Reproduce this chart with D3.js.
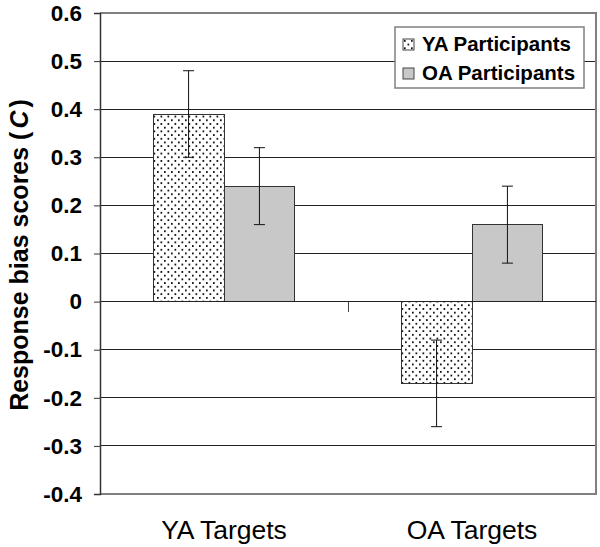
<!DOCTYPE html>
<html><head><meta charset="utf-8">
<script src="https://cdn.jsdelivr.net/npm/d3@7"></script>
<style>body{margin:0;background:#fff}svg{display:block}text{font-family:"Liberation Sans",Arial,sans-serif}</style>
</head><body>
<svg id="c" width="600" height="547"></svg>
<script>
const categories = ["YA Targets", "OA Targets"];
const seriesNames = ["YA Participants", "OA Participants"];
const ya = [0.39, -0.17];
const oa = [0.24, 0.16];
const yaErr = [0.09, 0.09];
const oaErr = [0.08, 0.08];
const yTicks = [0.6, 0.5, 0.4, 0.3, 0.2, 0.1, 0, -0.1, -0.2, -0.3, -0.4];
const yTickLabels = ["0.6", "0.5", "0.4", "0.3", "0.2", "0.1", "0", "-0.1", "-0.2", "-0.3", "-0.4"];

const svg = d3.select("#c");
const L = 100, R = 596, T = 13, B = 494;
const y = d3.scaleLinear().domain([-0.4, 0.6]).range([B, T]);
const x0 = d3.scaleBand().domain(categories).range([L, R]).padding(0);
const x1 = d3.scaleBand().domain(seriesNames).range([0, x0.bandwidth()]).paddingInner(0).paddingOuter(0.75);

const defs = svg.append("defs");
const pat = defs.append("pattern").attr("id", "dots").attr("patternUnits", "userSpaceOnUse")
  .attr("width", 7).attr("height", 7.4);
pat.append("rect").attr("width", 7).attr("height", 7.4).attr("fill", "#fff");
pat.append("rect").attr("x", 1).attr("y", 1).attr("width", 1.7).attr("height", 1.7).attr("fill", "#000");
pat.append("rect").attr("x", 4.5).attr("y", 4.7).attr("width", 1.7).attr("height", 1.7).attr("fill", "#000");

// gridlines
svg.append("g").selectAll("line").data(yTicks.filter(v => v < 0.6 && v > -0.4)).join("line")
  .attr("x1", L).attr("x2", R).attr("y1", d => y(d)).attr("y2", d => y(d))
  .attr("stroke", "#222").attr("stroke-width", 1).attr("shape-rendering", "crispEdges");

// plot border (top, right, bottom)
svg.append("path").attr("d", `M${L},${y(0.6)}H${R}V${y(-0.4)}H${L}`)
  .attr("fill", "none").attr("stroke", "#808080").attr("stroke-width", 1.5).attr("shape-rendering", "crispEdges");

const data = categories.map((c, i) => ({ c, vals: [
  { s: seriesNames[0], v: ya[i], e: yaErr[i], fill: "url(#dots)" },
  { s: seriesNames[1], v: oa[i], e: oaErr[i], fill: "#c8c8c8" }] }));

const g = svg.append("g").selectAll("g").data(data).join("g")
  .attr("transform", d => `translate(${x0(d.c)},0)`);
g.selectAll("rect").data(d => d.vals).join("rect")
  .attr("x", d => x1(d.s)).attr("width", x1.bandwidth())
  .attr("y", d => y(Math.max(0, d.v))).attr("height", d => Math.abs(y(d.v) - y(0)))
  .attr("fill", d => d.fill).attr("stroke", "#333").attr("stroke-width", 1).attr("shape-rendering", "crispEdges");

// error bars
const eb = g.selectAll("g.eb").data(d => d.vals).join("g").attr("class", "eb");
eb.append("line").attr("x1", d => x1(d.s) + x1.bandwidth() / 2).attr("x2", d => x1(d.s) + x1.bandwidth() / 2)
  .attr("y1", d => y(d.v + d.e)).attr("y2", d => y(d.v - d.e)).attr("stroke", "#111").attr("stroke-width", 1);
[1, -1].forEach(sgn => {
  eb.append("line").attr("x1", d => x1(d.s) + x1.bandwidth() / 2 - 5.5).attr("x2", d => x1(d.s) + x1.bandwidth() / 2 + 5.5)
    .attr("y1", d => y(d.v + sgn * d.e)).attr("y2", d => y(d.v + sgn * d.e)).attr("stroke", "#111").attr("stroke-width", 1);
});

// category axis at zero with ticks between categories
svg.append("line").attr("x1", L).attr("x2", R).attr("y1", y(0)).attr("y2", y(0))
  .attr("stroke", "#222").attr("shape-rendering", "crispEdges");
svg.append("g").selectAll("line").data(categories.slice(1)).join("line")
  .attr("x1", d => x0(d)).attr("x2", d => x0(d)).attr("y1", y(0)).attr("y2", y(0) + 10)
  .attr("stroke", "#444").attr("shape-rendering", "crispEdges");

// y axis
const yAxis = d3.axisLeft(y).tickValues(yTicks).tickSize(6).tickPadding(12)
  .tickFormat((d, i) => yTickLabels[i]);
const ya_ = svg.append("g").attr("transform", `translate(${L},0)`).call(yAxis);
ya_.select(".domain").attr("stroke", "#333").attr("stroke-width", 1.5);
ya_.selectAll(".tick line").attr("stroke", "#333");
ya_.selectAll("text").attr("font-size", 22.5).attr("font-weight", "bold").attr("fill", "#000")
  .attr("font-family", "'Liberation Sans', Arial, sans-serif");

// x labels
svg.append("g").selectAll("text").data(categories).join("text")
  .attr("x", d => x0(d) + x0.bandwidth() / 2).attr("y", 539).attr("text-anchor", "middle")
  .attr("font-size", 26.5).text(d => d);

// y title
const yt = svg.append("text").attr("transform", "translate(28,255) rotate(-90)").attr("text-anchor", "middle")
  .attr("font-size", 25).attr("font-weight", "bold");
yt.append("tspan").text("Response bias scores (");
yt.append("tspan").attr("dx", 3).attr("font-style", "italic").text("C");
yt.append("tspan").attr("dx", 3).text(")");

// legend
const lg = svg.append("g").attr("transform", "translate(395,27)");
lg.append("rect").attr("width", 189).attr("height", 61).attr("fill", "#fff").attr("stroke", "#808080").attr("stroke-width", 1.5);
const li = lg.selectAll("g").data([{ s: seriesNames[0], fill: "url(#dots)" }, { s: seriesNames[1], fill: "#c8c8c8" }]).join("g")
  .attr("transform", (d, i) => `translate(8,${12 + i * 29})`);
li.append("rect").attr("width", 11).attr("height", 11).attr("fill", d => d.fill).attr("stroke", "#444");
li.append("text").attr("x", 19).attr("y", 12).attr("font-size", 20.5).attr("font-weight", "bold").text(d => d.s);
</script>
</body></html>
